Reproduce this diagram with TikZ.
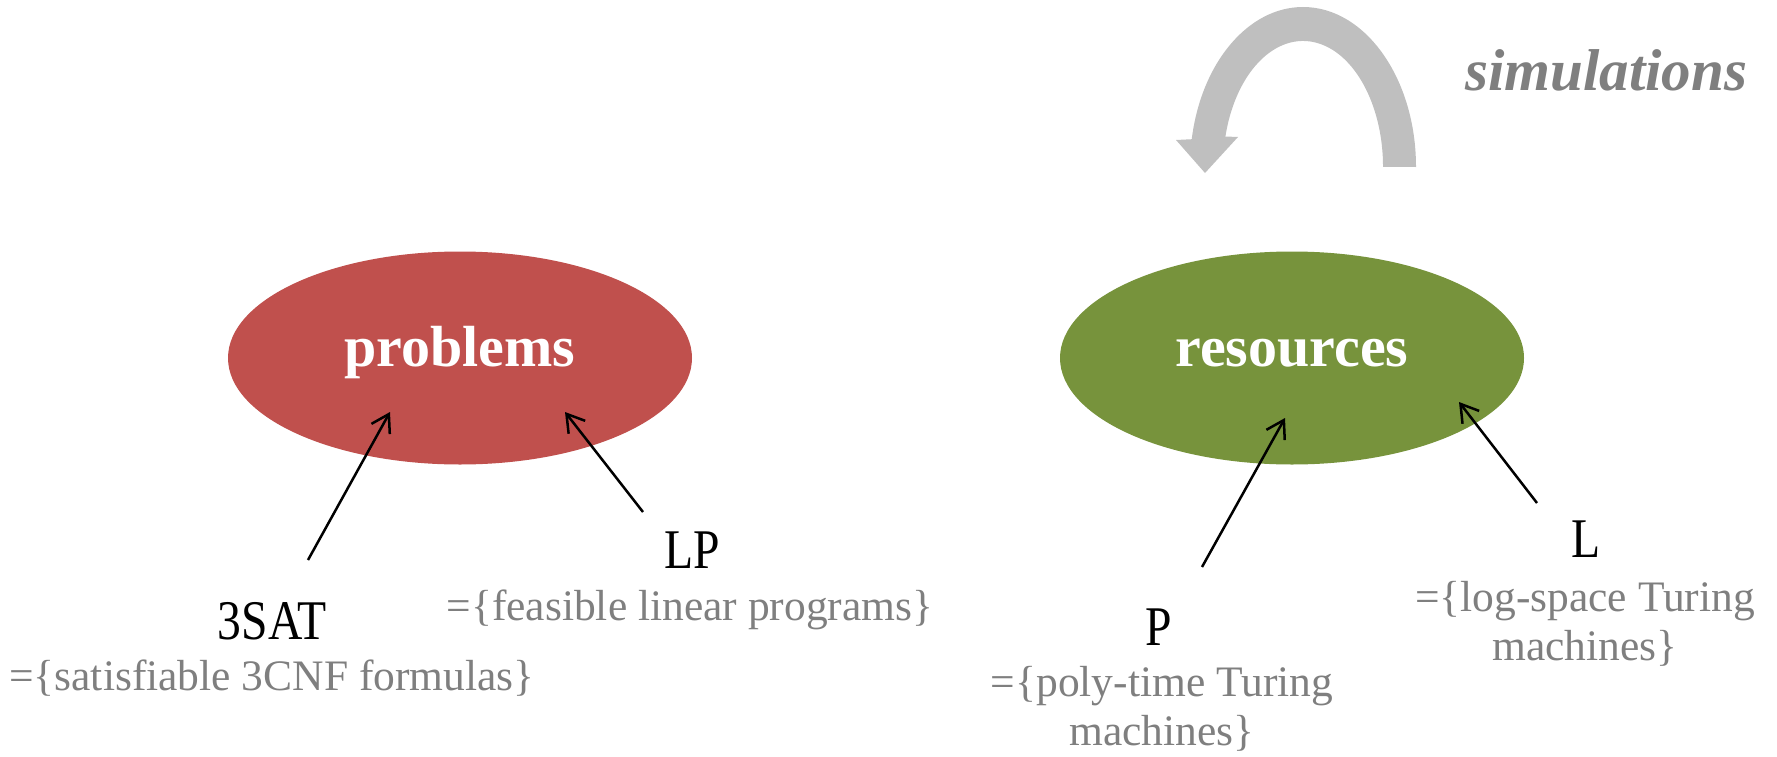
\documentclass[tikz,border=0pt]{standalone}
\usepackage{fontspec}
\setmainfont{Liberation Serif}
\newfontfamily\narrowserif{Liberation Serif}[FakeStretch=0.85]
\usetikzlibrary{shapes.geometric,arrows.meta}
\definecolor{probred}{HTML}{C0504D}
\definecolor{resgreen}{HTML}{77933C}
\definecolor{arcgray}{HTML}{BFBFBF}
\definecolor{txtgray}{HTML}{7F7F7F}
\tikzset{
  blob/.style={ellipse, minimum width=464pt, minimum height=213pt, inner sep=0pt,
    text height=24pt, text depth=8pt,
    text=white, font=\fontsize{58}{60}\selectfont\bfseries},
  biglabel/.style={anchor=base, inner sep=0pt, font=\narrowserif\fontsize{56}{60}\selectfont},
  desc/.style={anchor=base, inner sep=0pt, align=center, text=txtgray,
    font=\fontsize{43.5}{49}\selectfont},
  pointer/.style={draw=black, line width=2.5pt, -{Straight Barb[length=17pt,width=21pt]}},
}
\begin{document}
\begin{tikzpicture}[x=1pt,y=-1pt]
\useasboundingbox (0,0) rectangle (1777,757);
% ellipses
\node[blob, fill=probred] (prob) at (460,358) {problems};
\node[blob, fill=resgreen] (res) at (1292,358) {resources};
% labels
\node[biglabel] (sat) at (272,639) {3SAT};
\node[desc] (satd) at (272,690) {=\{satisfiable 3CNF formulas\}};
\node[biglabel] (lp) at (692,568) {LP};
\node[desc] (lpd) at (690,620) {=\{feasible linear programs\}};
\node[biglabel] (p) at (1159,645) {P};
\node[desc] (pd) at (1162,745) {=\{poly-time Turing\\machines\}};
\node[biglabel] (l) at (1586,557) {L};
\node[desc] (ld) at (1585,660) {=\{log-space Turing\\machines\}};
\node[anchor=base west, inner sep=0pt, text=txtgray,
  font=\fontsize{59}{62}\selectfont\bfseries\itshape] (sim) at (1465,91) {simulations};
% pointers
\coordinate (satT) at (308,560);
\coordinate (satH) at (390,412);
\coordinate (lpT) at (643,512);
\coordinate (lpH) at (565,412);
\coordinate (pT) at (1202,567);
\coordinate (pH) at (1285,418);
\coordinate (lT) at (1537,503);
\coordinate (lH) at (1459,402);
\draw[pointer] (satT) -- (satH);
\draw[pointer] (lpT) -- (lpH);
\draw[pointer] (pT) -- (pH);
\draw[pointer] (lT) -- (lH);
% curved simulation arrow
\fill[arcgray] (1416,167) arc[start angle=0, end angle=-170, x radius=113, y radius=160]
  -- (1176,140) -- (1205,173) -- (1238,137) -- (1225.4,136.5)
  arc[start angle=-166, end angle=0, x radius=80, y radius=126] -- cycle;
\end{tikzpicture}
\end{document}
